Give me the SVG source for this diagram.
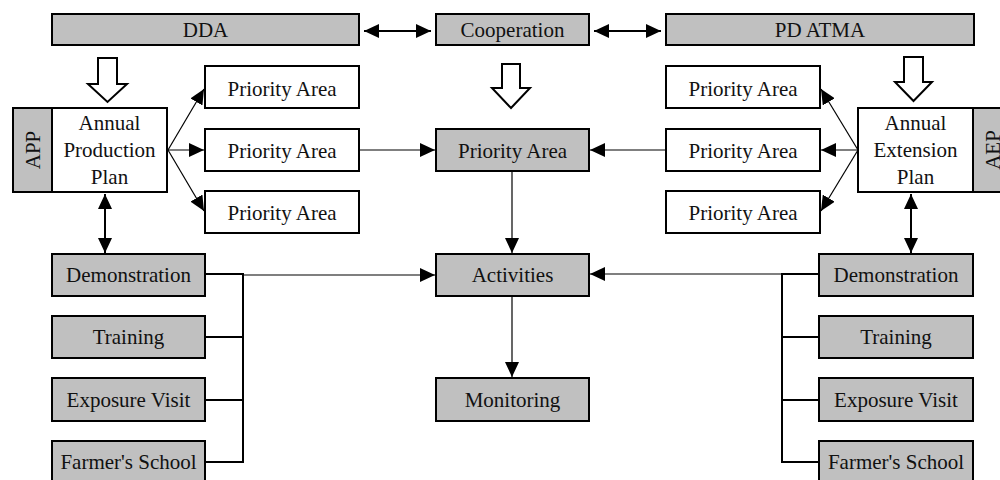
<svg xmlns="http://www.w3.org/2000/svg" width="1000" height="480" viewBox="0 0 1000 480">
<style>
.box{stroke:#000;stroke-width:2}
.g{fill:#c0c0c0}
.w{fill:#fff}
text{font-family:"Liberation Serif","Times New Roman",serif;font-size:21px;fill:#111;text-anchor:middle}
.thin{stroke:#000;stroke-width:1.2;fill:none}
.thick{stroke:#000;stroke-width:2;fill:none}
.hollow{fill:#fff;stroke:#000;stroke-width:2;stroke-linejoin:miter}
</style>
<defs>
<marker id="ah" markerUnits="userSpaceOnUse" markerWidth="16" markerHeight="14" refX="15" refY="7" orient="auto-start-reverse">
<path d="M0,0 L15,7 L0,14 Z" fill="#000"/>
</marker>
</defs>
<rect width="1000" height="480" fill="#fff"/>

<g id="connectors">
<line class="thick" x1="364" y1="31" x2="431" y2="31" marker-start="url(#ah)" marker-end="url(#ah)"/>
<line class="thick" x1="594" y1="31" x2="661" y2="31" marker-start="url(#ah)" marker-end="url(#ah)"/>
<path class="hollow" d="M98,58 H117 V84 H127 L107.5,102 L88,84 H98 Z"/>
<path class="hollow" d="M502,64 H520 V88 H530 L511,108 L492,88 H502 Z"/>
<path class="hollow" d="M904,57 H923 V82 H932 L913.5,101 L895,82 H904 Z"/>
<line class="thin" x1="168" y1="150" x2="204" y2="89" marker-end="url(#ah)"/>
<line class="thin" x1="168" y1="150" x2="204" y2="150" marker-end="url(#ah)"/>
<line class="thin" x1="168" y1="150" x2="204" y2="211" marker-end="url(#ah)"/>
<line class="thin" x1="858" y1="150" x2="821" y2="89" marker-end="url(#ah)"/>
<line class="thin" x1="858" y1="150" x2="821" y2="150" marker-end="url(#ah)"/>
<line class="thin" x1="858" y1="150" x2="821" y2="211" marker-end="url(#ah)"/>
<line class="thin" x1="360" y1="150" x2="435" y2="150" marker-end="url(#ah)"/>
<line class="thin" x1="666" y1="150" x2="590" y2="150" marker-end="url(#ah)"/>
<line class="thick" x1="105" y1="194" x2="105" y2="253" marker-start="url(#ah)" marker-end="url(#ah)"/>
<line class="thick" x1="911" y1="194" x2="911" y2="253" marker-start="url(#ah)" marker-end="url(#ah)"/>
<line class="thin" x1="512" y1="172" x2="512" y2="253" marker-end="url(#ah)"/>
<line class="thin" x1="512" y1="297" x2="512" y2="377" marker-end="url(#ah)"/>
<path class="thick" d="M206,274 H243 M206,337 H243 M206,400 H243 M206,462 H243 M243,273 V463"/>
<line class="thin" x1="243" y1="275" x2="435" y2="275" marker-end="url(#ah)"/>
<path class="thick" d="M818,274 H782 M818,337 H782 M818,400 H782 M818,462 H782 M782,273 V463"/>
<line class="thin" x1="782" y1="274" x2="590" y2="274" marker-end="url(#ah)"/>
</g>

<g id="dda"><rect class="box g" x="52" y="14" width="307" height="31"/><text x="205.5" y="37">DDA</text></g>
<g id="cooperation"><rect class="box g" x="436" y="14" width="153" height="31"/><text x="512.5" y="37">Cooperation</text></g>
<g id="pdatma"><rect class="box g" x="666" y="14" width="308" height="31"/><text x="820" y="37">PD ATMA</text></g>

<g id="app"><rect class="box g" x="13" y="108" width="39" height="84"/><text transform="translate(40,150) rotate(-90)">APP</text></g>
<g id="annual-production-plan"><rect class="box w" x="52" y="108" width="115" height="84"/>
<text x="109.5" y="130">Annual</text><text x="109.5" y="157">Production</text><text x="109.5" y="184">Plan</text></g>

<g id="pa-l1"><rect class="box w" x="205" y="66" width="154" height="42"/><text x="282" y="96">Priority Area</text></g>
<g id="pa-l2"><rect class="box w" x="205" y="129" width="154" height="42"/><text x="282" y="158">Priority Area</text></g>
<g id="pa-l3"><rect class="box w" x="205" y="191" width="154" height="42"/><text x="282" y="220">Priority Area</text></g>

<g id="pa-center"><rect class="box g" x="436" y="129" width="153" height="42"/><text x="512.5" y="158">Priority Area</text></g>

<g id="pa-r1"><rect class="box w" x="666" y="66" width="154" height="42"/><text x="743" y="96">Priority Area</text></g>
<g id="pa-r2"><rect class="box w" x="666" y="129" width="154" height="42"/><text x="743" y="158">Priority Area</text></g>
<g id="pa-r3"><rect class="box w" x="666" y="191" width="154" height="42"/><text x="743" y="220">Priority Area</text></g>

<g id="annual-extension-plan"><rect class="box w" x="858" y="108" width="115" height="84"/>
<text x="915.5" y="130">Annual</text><text x="915.5" y="157">Extension</text><text x="915.5" y="184">Plan</text></g>
<g id="aep"><rect class="box g" x="973" y="108" width="39" height="84"/><text transform="translate(1000,150) rotate(-90)">AEP</text></g>

<g id="demo-l"><rect class="box g" x="52" y="254" width="153" height="42"/><text x="128.5" y="282">Demonstration</text></g>
<g id="training-l"><rect class="box g" x="52" y="316" width="153" height="42"/><text x="128.5" y="344">Training</text></g>
<g id="exposure-l"><rect class="box g" x="52" y="378" width="153" height="43"/><text x="128.5" y="407">Exposure Visit</text></g>
<g id="school-l"><rect class="box g" x="52" y="441" width="153" height="42"/><text x="128.5" y="469">Farmer's School</text></g>

<g id="activities"><rect class="box g" x="436" y="254" width="153" height="42"/><text x="512.5" y="282">Activities</text></g>
<g id="monitoring"><rect class="box g" x="436" y="378" width="153" height="43"/><text x="512.5" y="407">Monitoring</text></g>

<g id="demo-r"><rect class="box g" x="819" y="254" width="154" height="42"/><text x="896" y="282">Demonstration</text></g>
<g id="training-r"><rect class="box g" x="819" y="316" width="154" height="42"/><text x="896" y="344">Training</text></g>
<g id="exposure-r"><rect class="box g" x="819" y="378" width="154" height="43"/><text x="896" y="407">Exposure Visit</text></g>
<g id="school-r"><rect class="box g" x="819" y="441" width="154" height="42"/><text x="896" y="469">Farmer's School</text></g>
</svg>
